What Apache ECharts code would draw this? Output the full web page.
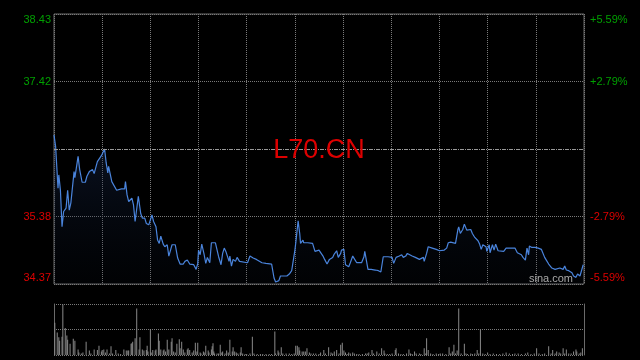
<!DOCTYPE html>
<html><head><meta charset="utf-8">
<script src="https://cdn.jsdelivr.net/npm/echarts@6/dist/echarts.min.js"></script>
<style>html,body{margin:0;padding:0;background:#000;}#c{width:640px;height:360px;}</style>
</head><body><div id="c"></div>
<script>
const symbolName = 'L70.CN';
const watermark = 'sina.com';
const prevClose = 36.40;
const priceMin = 34.37, priceMax = 38.43;
const priceTickLabels = ['34.37', '35.38', '', '37.42', '38.43'];
const pctTickLabels = ['-5.59%', '-2.79%', '', '+2.79%', '+5.59%'];

const priceTimes = [
  0,2,5,6,8,10,12,15,17,19,
  21,25,26,30,32,35,39,41,44,48,
  50,54,56,59,63,65,67,68,72,74,
  78,84,88,89,91,93,97,99,101,103,
  105,108,110,113,115,118,122,124,127,129,
  131,133,136,138,141,143,145,147,151,154,
  157,161,163,166,169,174,177,179,180,182,
  184,187,189,191,193,194,196,201,203,205,
  208,210,212,214,216,218,219,221,223,226,
  228,231,233,241,244,248,252,259,264,271,
  274,276,280,282,290,293,296,298,300,301,
  304,306,307,310,311,316,322,325,327,330,
  332,335,337,340,343,347,349,352,354,357,
  358,361,363,367,369,372,374,377,383,386,
  387,391,395,400,404,407,410,416,421,423,
  426,430,433,435,438,440,443,446,450,455,
  457,460,461,464,466,471,476,480,486,489,
  491,494,500,503,504,506,509,511,514,516,
  519,521,524,528,530,532,534,538,539,542,
  543,546,548,550,553,555,560,563,574,577,
  582,584,587,589,591,592,595,599,603,607,
  611,614,616,620,624,630,634,636,638,641,
  645,647,650,652,655,657,659
];
const prices = [
  36.61,36.44,35.81,36.01,35.78,35.23,35.46,35.51,35.78,35.48,
  35.59,36.06,35.97,36.29,36.09,35.90,35.90,35.99,36.06,36.09,
  36.03,36.21,36.24,36.30,36.40,36.19,36.04,36.14,35.91,35.89,
  35.78,35.80,35.80,35.91,35.71,35.61,35.66,35.56,35.31,35.29,
  35.69,35.43,35.36,35.36,35.28,35.26,35.41,35.31,35.23,35.03,
  34.98,35.09,34.97,34.93,34.96,34.79,34.79,34.96,34.96,34.76,
  34.67,34.67,34.71,34.73,34.67,34.66,34.59,34.68,34.88,34.81,
  34.97,34.81,34.68,34.77,34.78,34.69,34.99,34.99,34.96,34.78,
  34.66,34.83,34.91,34.86,34.88,34.71,34.79,34.64,34.74,34.71,
  34.77,34.71,34.69,34.69,34.79,34.76,34.74,34.69,34.68,34.67,
  34.46,34.40,34.42,34.49,34.49,34.52,34.57,34.58,34.88,34.98,
  35.32,35.13,34.98,35.03,34.99,34.99,34.98,34.86,34.83,34.88,
  34.87,34.79,34.74,34.67,34.74,34.77,34.82,34.87,34.77,34.83,
  34.88,34.89,34.66,34.63,34.69,34.79,34.78,34.69,34.69,34.78,
  34.86,34.59,34.59,34.58,34.57,34.55,34.78,34.78,34.77,34.68,
  34.77,34.79,34.81,34.77,34.79,34.83,34.81,34.79,34.77,34.74,
  34.71,34.77,34.71,34.83,34.93,34.91,34.89,34.87,34.88,34.91,
  34.99,35.00,34.98,35.19,35.23,35.13,35.19,35.27,35.18,35.17,
  35.19,35.13,35.07,35.02,34.97,34.89,34.96,34.93,34.86,34.96,
  34.84,34.96,34.88,34.97,34.87,34.86,34.86,34.91,34.91,34.84,
  34.81,34.77,34.73,34.91,34.81,34.94,34.92,34.92,34.91,34.89,
  34.77,34.71,34.67,34.61,34.59,34.61,34.59,34.64,34.58,34.57,
  34.54,34.49,34.47,34.52,34.49,34.52,34.66
];

const volTimes = [
  1,4,6,7,10,11,14,16,17,20,
  24,26,30,31,34,36,40,44,46,50,
  54,56,59,60,62,64,66,69,71,73,
  77,80,83,87,90,92,93,96,97,98,
  101,103,106,107,110,112,115,116,117,120,
  121,123,126,127,130,131,133,136,137,139,
  141,143,146,147,149,151,153,156,157,159,
  161,163,166,167,169,172,174,176,178,179,
  182,183,186,187,189,192,193,196,197,198,
  199,200,203,205,207,209,210,213,215,217,
  219,222,223,225,227,229,232,233,235,238,
  240,244,247,249,253,257,260,264,268,271,
  275,276,279,280,283,285,289,293,296,299,
  301,303,305,306,309,311,313,315,318,320,
  323,326,330,332,336,338,342,345,347,349,
  352,355,357,359,361,363,365,367,369,372,
  374,377,380,384,388,390,392,396,398,402,
  405,408,411,412,415,418,421,425,426,429,
  432,435,439,442,444,446,449,451,455,457,
  461,463,464,466,469,472,476,479,481,484,
  488,492,494,496,498,500,502,504,507,511,
  513,515,519,521,524,527,529,531,534,537,
  540,543,547,551,555,559,563,567,571,574,
  578,582,587,590,594,598,601,604,608,611,
  616,619,621,624,626,629,631,634,636,638,
  641,644,647,650,651,654,656,658
];
const volumes = [
  63,44,35,28,36,99,53,38,30,22,
  32,28,11,5,3,5,26,9,3,11,
  10,18,7,10,11,5,11,3,17,3,
  10,3,2,11,9,9,9,22,23,26,
  33,91,11,35,11,9,10,18,7,51,
  5,10,9,11,42,28,11,9,11,7,
  30,11,26,33,7,5,22,31,13,26,
  11,5,11,13,10,5,9,24,7,24,
  5,3,7,5,18,9,5,11,17,23,
  7,3,3,3,20,5,7,3,9,5,
  30,7,15,7,5,3,5,15,3,2,
  2,3,36,3,2,2,2,2,2,2,
  46,3,9,5,15,3,3,3,2,3,
  18,18,15,9,7,7,7,13,5,3,
  3,3,2,5,10,3,15,5,3,7,
  10,3,20,24,9,5,2,5,3,5,
  3,2,2,2,3,3,5,10,3,7,
  3,13,9,3,2,2,3,10,13,3,
  2,2,3,11,3,2,7,3,3,2,
  13,3,33,10,3,2,3,2,3,3,
  2,15,3,7,20,3,9,91,3,22,
  3,2,3,2,3,10,3,50,3,2,
  5,2,3,2,2,3,5,3,2,3,
  3,2,3,5,2,3,13,3,2,3,
  17,3,10,3,7,5,3,13,3,11,
  3,3,7,11,7,3,5,13
];

const GREEN = '#00a000', RED = '#dd0000';
const FONT = '"Liberation Sans", Arial, sans-serif';
const GRIDC = '#7a7a7a', BORDER = '#6a6a6a';

const priceData = priceTimes.map((t, i) => [t, prices[i]]);
const volData = volTimes.map((t, i) => [t, volumes[i]]);

function lab(v, arr) {
  const i = Math.round(v);
  const s = arr[i];
  if (!s) return '';
  const up = i > 2;
  const key = (up ? 'u' : 'd') + (i === 4 ? 't' : (i === 0 ? 'b' : ''));
  return '{' + key + '|' + s + '}';
}
const rich = {
  u: { color: GREEN, fontSize: 11, fontFamily: FONT },
  ut: { color: GREEN, fontSize: 11, fontFamily: FONT, padding: [12, 0, 0, 0] },
  d: { color: RED, fontSize: 11, fontFamily: FONT },
  db: { color: RED, fontSize: 11, fontFamily: FONT, padding: [0, 0, 12, 0] }
};

const chart = echarts.init(document.getElementById('c'));
chart.setOption({
  backgroundColor: '#000',
  animation: false,
  textStyle: { fontFamily: FONT },
  grid: [
    { left: 54, top: 14, width: 530, height: 270, show: true, borderColor: BORDER, borderWidth: 1, backgroundColor: 'transparent' },
    { left: 54, top: 304, width: 530, height: 51 }
  ],
  xAxis: [
    { type: 'value', gridIndex: 0, min: 0, max: 660, interval: 60,
      axisLine: { show: false }, axisTick: { show: false }, axisLabel: { show: false },
      splitLine: { show: true, lineStyle: { color: GRIDC, type: [1, 1], width: 1 } } },
    { type: 'value', gridIndex: 1, min: 0, max: 660, interval: 60,
      axisLine: { show: false }, axisTick: { show: false }, axisLabel: { show: false },
      splitLine: { show: false } }
  ],
  yAxis: [
    { type: 'value', gridIndex: 0, min: priceMin, max: priceMax, show: false },
    { type: 'value', gridIndex: 0, min: 0, max: 4, interval: 1, position: 'left',
      axisLine: { show: false }, axisTick: { show: false },
      axisLabel: { margin: 3, formatter: (v) => lab(v, priceTickLabels), rich: rich },
      splitLine: { show: true, lineStyle: { color: [GRIDC, GRIDC, 'rgba(0,0,0,0)', GRIDC, GRIDC], type: [1, 1], width: 1 } } },
    { type: 'value', gridIndex: 0, min: 0, max: 4, interval: 1, position: 'right',
      axisLine: { show: false }, axisTick: { show: false },
      axisLabel: { margin: 6, formatter: (v) => lab(v, pctTickLabels), rich: rich },
      splitLine: { show: false } },
    { type: 'value', gridIndex: 1, min: 0, max: 100, interval: 50, position: 'left',
      axisLine: { show: true, lineStyle: { color: BORDER } }, axisTick: { show: false }, axisLabel: { show: false },
      splitLine: { show: true, lineStyle: { color: GRIDC, type: [1, 1], width: 1 } } },
    { type: 'value', gridIndex: 1, min: 0, max: 100, interval: 50, position: 'right',
      axisLine: { show: true, lineStyle: { color: BORDER } }, axisTick: { show: false }, axisLabel: { show: false },
      splitLine: { show: false } }
  ],
  series: [
    { type: 'line', xAxisIndex: 0, yAxisIndex: 0, data: priceData, showSymbol: false, symbol: 'none',
      lineStyle: { color: '#4a84dc', width: 1.2 },
      areaStyle: { origin: 'start', color: new echarts.graphic.LinearGradient(0, 0, 0, 1, [
        { offset: 0, color: 'rgba(28,48,90,0.55)' }, { offset: 1, color: 'rgba(10,20,40,0.15)' }]) },
      markLine: { silent: true, symbol: 'none', label: { show: false },
        lineStyle: { color: '#999', type: [4, 1, 1, 1], width: 1 },
        data: [{ yAxis: prevClose }] } },
    { type: 'bar', xAxisIndex: 1, yAxisIndex: 3, data: volData, barWidth: 1,
      itemStyle: { color: '#8a8a8a' } }
  ],
  graphic: [
    { type: 'text', x: 319, y: 151, z: 10,
      style: { text: symbolName, fill: RED, font: '27px ' + FONT, textAlign: 'center', textVerticalAlign: 'middle', align: 'center', verticalAlign: 'middle' } },
    { type: 'text', x: 573, y: 279, z: 10,
      style: { text: watermark, fill: '#aaa', font: '11px ' + FONT, textAlign: 'right', textVerticalAlign: 'middle', align: 'right', verticalAlign: 'middle' } }
  ]
});
</script>
</body></html>
